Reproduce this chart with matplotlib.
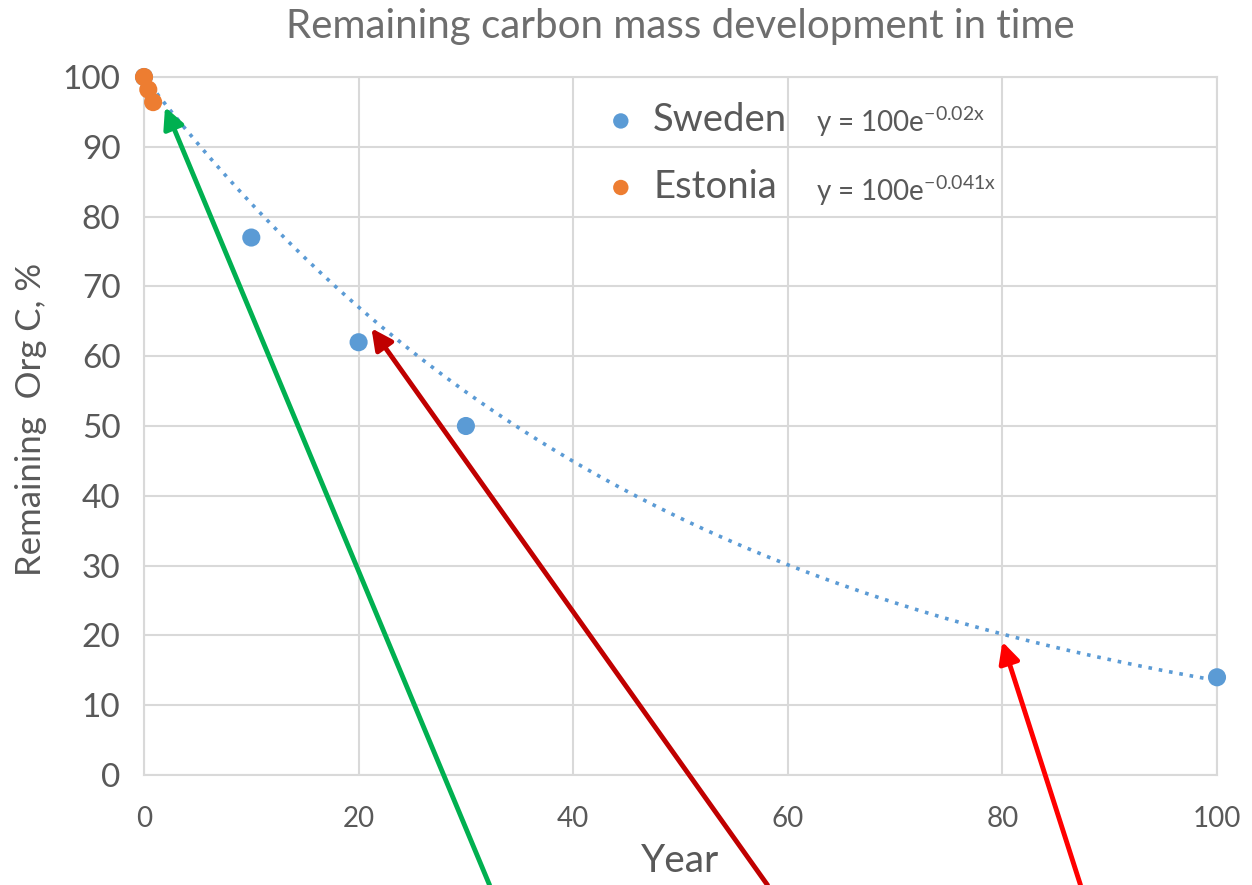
import numpy as np
import matplotlib.pyplot as plt

plt.rcParams['font.family'] = ['Lato', 'DejaVu Sans']

# data
sweden_year = [0, 10, 20, 30, 100]
sweden_pct = [100, 77, 62, 50, 14]
estonia_year = [0, 0.4, 0.85]
estonia_pct = [100, 98.2, 96.4]
sweden_k = 0.02
estonia_k = 0.041

# arrow tips (data) and tails (figure fraction, bottom edge)
arrow_tips = [(1.96, 95.7), (21.2, 64.0), (80.0, 19.1)]
arrow_tails = [(0.391, 0.0), (0.613, 0.0), (0.863, 0.0)]
arrow_colors = ['#00B050', '#C00000', '#FF0000']

blue = '#5B9BD5'
orange = '#ED7D31'
grid = '#D9D9D9'
txt = '#595959'

fig = plt.figure(figsize=(12.52, 8.85), dpi=100)
ax = fig.add_axes([144/1252, 1-775/885, 1073/1252, 698/885])

xx = np.linspace(0, 100, 400)
ax.plot(xx, 100*np.exp(-sweden_k*xx), color=blue, lw=2.6, linestyle=(0, (1, 1.9)), zorder=2)

ax.scatter(sweden_year, sweden_pct, s=170, color=blue, zorder=3, clip_on=False, label='Sweden', edgecolors='none')
ax.scatter(estonia_year, estonia_pct, s=170, color=orange, zorder=4, clip_on=False, label='Estonia', edgecolors='none')

ax.set_xlim(0, 100)
ax.set_ylim(0, 100)
ax.set_xticks(np.arange(0, 101, 20))
ax.set_yticks(np.arange(0, 101, 10))
ax.grid(True, color=grid, lw=1.5)
ax.set_axisbelow(True)
for s in ax.spines.values():
    s.set_color(grid)
    s.set_linewidth(1.5)
ax.tick_params(axis='both', length=0, colors=txt)
ax.tick_params(axis='y', labelsize=24, pad=17)
ax.tick_params(axis='x', labelsize=20, pad=22)

ax.set_title('Remaining carbon mass development in time', fontsize=29, color='#6E6E6E', pad=28)
ax.set_xlabel('Year', fontsize=28, color=txt, labelpad=8)
ax.set_ylabel('Remaining  Org C, %', fontsize=25, color=txt)
ax.yaxis.set_label_coords(-0.090, 0.51)

ax.legend(loc='upper left', bbox_to_anchor=(0.407, 1.008), frameon=False, fontsize=27.5,
          labelcolor=txt, handlelength=0.5, handletextpad=0.6, labelspacing=0.8,
          markerscale=0.85, borderpad=0.3)

ax.text(0.626, 0.936, r'y = 100e$^{\mathregular{-%s x}}$' % sweden_k, transform=ax.transAxes,
        fontsize=20, color=txt, va='center')
ax.text(0.626, 0.838, r'y = 100e$^{\mathregular{-%s x}}$' % estonia_k, transform=ax.transAxes,
        fontsize=20, color=txt, va='center')

for tip, tail, c in zip(arrow_tips, arrow_tails, arrow_colors):
    ax.annotate('', xy=tip, xytext=tail, textcoords='figure fraction',
                arrowprops=dict(arrowstyle='-|>,head_length=0.5,head_width=0.25',
                                color=c, lw=3.5, mutation_scale=25, shrinkA=0, shrinkB=0),
                annotation_clip=False, zorder=6)

fig.savefig('out.png', dpi=100)
